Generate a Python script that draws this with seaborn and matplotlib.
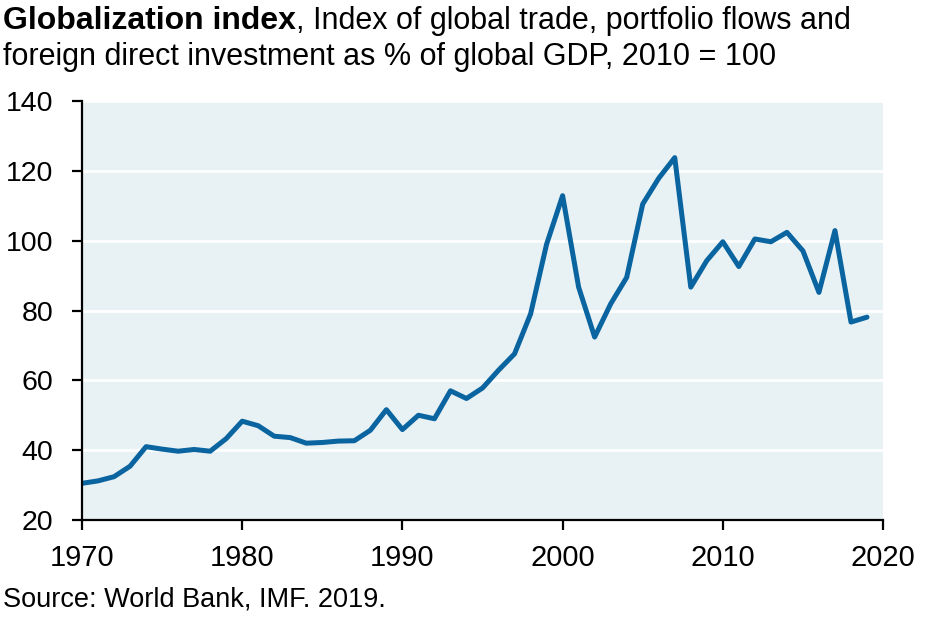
import numpy as np
import pandas as pd
import matplotlib
matplotlib.use("Agg")
import matplotlib.pyplot as plt
import seaborn as sns

# Globalization index, 2010 = 100
years = list(range(1970, 2020))
index_values = [
    30.5, 31.2, 32.4, 35.4, 41.0, 40.3, 39.7, 40.2, 39.7, 43.3,
    48.3, 47.0, 44.0, 43.6, 42.0, 42.2, 42.6, 42.7, 45.7, 51.6,
    45.9, 50.0, 49.0, 57.0, 54.8, 57.8, 62.9, 67.6, 79.0, 99.0,
    112.9, 86.7, 72.4, 81.9, 89.5, 110.5, 117.9, 123.8, 86.7, 94.3,
    99.7, 92.6, 100.5, 99.7, 102.4, 97.1, 85.2, 102.9, 76.7, 78.1,
]
x_ticks = [1970, 1980, 1990, 2000, 2010, 2020]
y_ticks = [20, 40, 60, 80, 100, 120, 140]

title_bold = "Globalization index"
title_rest = ", Index of global trade, portfolio flows and"
title_line2 = "foreign direct investment as % of global GDP, 2010 = 100"
source_text = "Source: World Bank, IMF. 2019."

line_color = "#0a64a0"
panel_color = "#e8f1f4"

df = pd.DataFrame({"year": years, "value": index_values})

sns.set_theme(style="white")
plt.rcParams["font.family"] = ["Liberation Sans", "DejaVu Sans"]
plt.rcParams["text.color"] = "black"

fig = plt.figure(figsize=(9.36, 6.24), dpi=100)
ax = fig.add_axes([0.0876, 0.1667, 0.8558, 0.6713])
ax.set_facecolor(panel_color)

sns.lineplot(data=df, x="year", y="value", ax=ax, color=line_color,
             linewidth=3.6, solid_joinstyle="round", solid_capstyle="round")

ax.set_xlim(1970, 2020)
ax.set_ylim(20, 140)
ax.set_xticks(x_ticks)
ax.set_yticks(y_ticks)
ax.set_xlabel("")
ax.set_ylabel("")

ax.yaxis.grid(True, color="white", linewidth=2)
ax.xaxis.grid(False)
ax.set_axisbelow(True)

for side in ["top", "right"]:
    ax.spines[side].set_visible(False)
for side in ["left", "bottom"]:
    ax.spines[side].set_color("black")
    ax.spines[side].set_linewidth(1.6)

ax.tick_params(axis="both", which="major", direction="out", length=7,
               width=1.6, color="black", labelcolor="black",
               bottom=True, left=True)
ax.tick_params(axis="x", pad=10, labelsize=21)
ax.tick_params(axis="y", pad=13.5, labelsize=20.5)

# title: bold lead-in followed by regular text on the same line
t1 = fig.text(3 / 936, 1 - 29 / 624, title_bold, fontsize=23,
              fontweight="bold", ha="left", va="baseline", color="black")
renderer = fig.canvas.get_renderer()
bb = t1.get_window_extent(renderer=renderer)
fig.text(bb.x1 / fig.bbox.width, 1 - 29 / 624, title_rest, fontsize=22,
         ha="left", va="baseline", color="black")
fig.text(3 / 936, 1 - 65 / 624, title_line2, fontsize=22,
         ha="left", va="baseline", color="black")
fig.text(3 / 936, 1 - 607 / 624, source_text, fontsize=19.5,
         ha="left", va="baseline", color="black")

fig.savefig("out.png", dpi=100)
